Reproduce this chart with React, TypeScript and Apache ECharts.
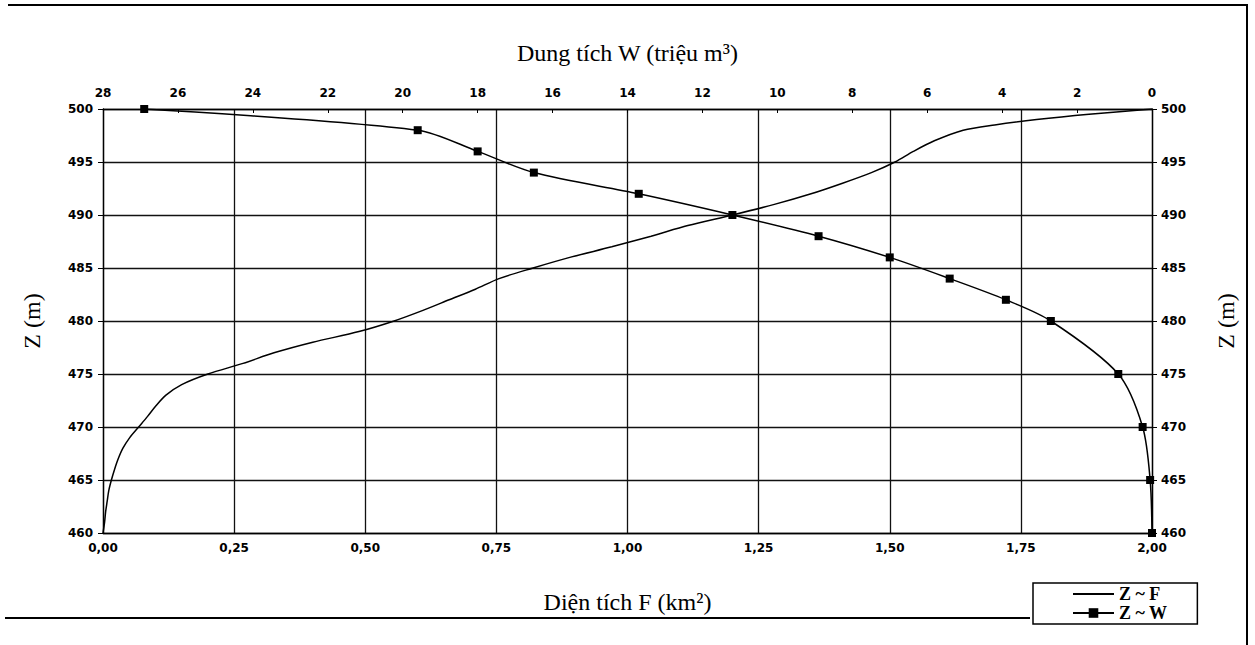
import React, { useEffect, useRef } from "react";
import * as echarts from "echarts";

// Z ~ F curve (water level vs. surface area)
const zLevelsF = [460, 461, 462, 463, 464, 465, 466, 467, 468, 469, 470, 471, 472, 473, 474, 475, 476, 477, 478, 479, 480, 481, 482, 483, 484, 485, 486, 487, 488, 489, 490, 491, 492, 493, 494, 495, 496, 497, 498, 498.5, 499, 499.5, 500];
const areaF = [0, 0.003, 0.005, 0.008, 0.011, 0.016, 0.022, 0.029, 0.038, 0.051, 0.068, 0.085, 0.101, 0.12, 0.15, 0.2, 0.267, 0.326, 0.4, 0.488, 0.555, 0.61, 0.66, 0.71, 0.755, 0.82, 0.89, 0.97, 1.045, 1.115, 1.2, 1.28, 1.35, 1.41, 1.465, 1.51, 1.545, 1.585, 1.64, 1.7, 1.78, 1.88, 2.0];

// Z ~ W curve (water level vs. volume), marked points
const zLevelsW = [460, 465, 470, 475, 480, 482, 484, 486, 488, 490, 492, 494, 496, 498, 500];
const volumeW = [0, 0.05, 0.25, 0.9, 2.7, 3.9, 5.4, 7.0, 8.9, 11.2, 13.7, 16.5, 18.0, 19.6, 26.9];

const seriesNames = ["Z ~ F", "Z ~ W"];

const serif = "Liberation Serif";
const sans = "DejaVu Sans";

export default function App() {
  const ref = useRef<HTMLDivElement>(null);

  useEffect(() => {
    if (!ref.current) return;
    const chart = echarts.init(ref.current, null, { renderer: "svg" });
    const fData = zLevelsF.map((z, i) => [areaF[i], z]);
    const wData = zLevelsW.map((z, i) => [volumeW[i], z]);
    const labelStyle = { color: "#000", fontFamily: sans, fontSize: 12, fontWeight: "bold" as const };
    const nameStyle = { color: "#000", fontFamily: serif, fontSize: 24 };
    const gridLine = { show: true, lineStyle: { color: "#111", width: 1.3, type: "solid" as const } };
    const axisLine = { show: true, onZero: false, lineStyle: { color: "#000", width: 1.3 } };

    chart.setOption({
      animation: false,
      backgroundColor: "#fff",
      grid: { left: 103, right: 103, top: 109, bottom: 112, containLabel: false },
      legend: {
        left: 1033,
        top: 583,
        orient: "vertical",
        itemWidth: 41,
        itemHeight: 12,
        itemGap: 1,
        padding: [2, 30, 2, 39],
        borderColor: "#000",
        borderWidth: 1.5,
        textStyle: { color: "#000", fontFamily: serif, fontSize: 18, fontWeight: "bold", lineHeight: 18 },
        data: [
          { name: seriesNames[0], itemStyle: { opacity: 0 } },
          { name: seriesNames[1] },
        ],
      },
      xAxis: [
        {
          type: "value",
          position: "bottom",
          min: 0,
          max: 2,
          interval: 0.25,
          name: "Diện tích F (km²)",
          nameLocation: "middle",
          nameGap: 57,
          nameTextStyle: nameStyle,
          axisLine,
          axisTick: { show: false },
          axisLabel: {
            ...labelStyle,
            margin: 9,
            formatter: (v: number) => v.toFixed(2).replace(".", ","),
          },
          splitLine: gridLine,
        },
        {
          type: "value",
          position: "top",
          min: 0,
          max: 28,
          interval: 2,
          inverse: true,
          name: "Dung tích W (triệu m³)",
          nameLocation: "middle",
          nameGap: 44,
          nameTextStyle: nameStyle,
          axisLine,
          axisTick: { show: true, inside: true, length: 4, lineStyle: { color: "#000" } },
          axisLabel: { ...labelStyle, margin: 10 },
          splitLine: { show: false },
        },
      ],
      yAxis: [
        {
          type: "value",
          position: "left",
          min: 460,
          max: 500,
          interval: 5,
          name: "Z (m)",
          nameLocation: "middle",
          nameGap: 59,
          nameRotate: 90,
          nameTextStyle: nameStyle,
          axisLine,
          axisTick: { show: true, length: 5, lineStyle: { color: "#000" } },
          axisLabel: { ...labelStyle, margin: 10 },
          splitLine: gridLine,
        },
        {
          type: "value",
          position: "right",
          min: 460,
          max: 500,
          interval: 5,
          name: "Z (m)",
          nameLocation: "middle",
          nameGap: 62,
          nameRotate: 90,
          nameTextStyle: nameStyle,
          axisLine,
          axisTick: { show: true, length: 5, lineStyle: { color: "#000" } },
          axisLabel: { ...labelStyle, margin: 9 },
          splitLine: { show: false },
        },
      ],
      series: [
        {
          name: seriesNames[0],
          type: "line",
          xAxisIndex: 0,
          yAxisIndex: 0,
          data: fData,
          symbol: "none",
          smooth: 0.3,
          lineStyle: { color: "#000", width: 1.5 },
          itemStyle: { color: "#000" },
        },
        {
          name: seriesNames[1],
          type: "line",
          xAxisIndex: 1,
          yAxisIndex: 0,
          data: wData,
          symbol: "rect",
          symbolSize: 8,
          smooth: 0.3,
          lineStyle: { color: "#000", width: 1.5 },
          itemStyle: { color: "#000" },
        },
      ],
      graphic: [
        { type: "line", shape: { x1: 8, y1: 5, x2: 1248, y2: 5 }, style: { stroke: "#000", lineWidth: 2 } },
        { type: "line", shape: { x1: 1247, y1: 5, x2: 1247, y2: 645 }, style: { stroke: "#000", lineWidth: 2 } },
        { type: "line", shape: { x1: 5, y1: 618, x2: 1030, y2: 618 }, style: { stroke: "#000", lineWidth: 2 } },
      ],
    });
    return () => chart.dispose();
  }, []);

  return (
    <div
      ref={ref}
      style={{ position: "fixed", left: 0, top: 0, width: 1255, height: 645, background: "#fff" }}
    />
  );
}
